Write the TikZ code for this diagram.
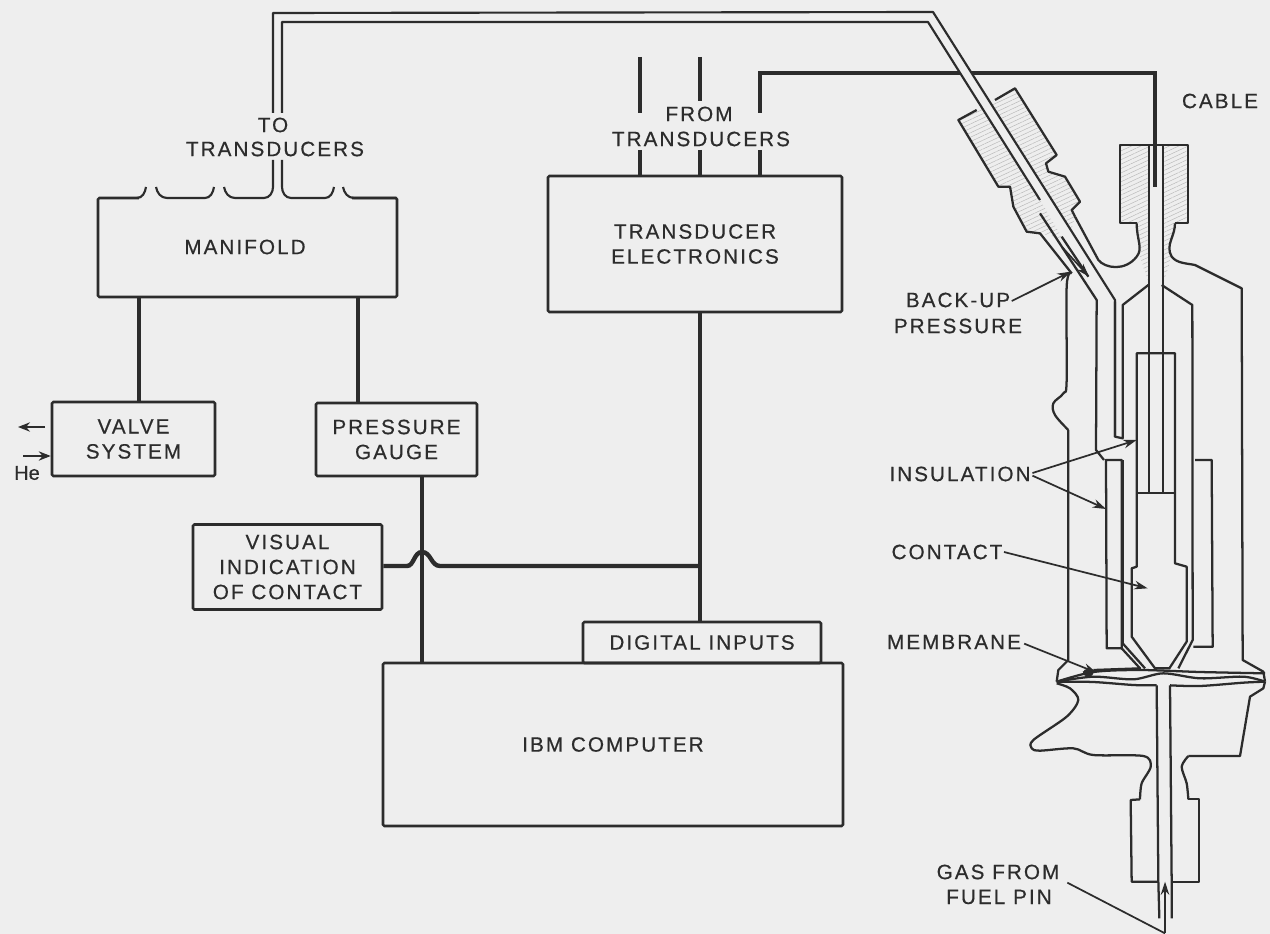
\documentclass[tikz,border=0pt]{standalone}
\usepackage{fontspec}
\usetikzlibrary{arrows.meta,patterns.meta}
\newfontfamily\lab[LetterSpace=10,FakeBold=0.5]{Liberation Sans}
\newfontfamily\labn[FakeBold=0.5]{Liberation Sans}
\definecolor{bgc}{HTML}{EEEEEE}
\definecolor{ink}{HTML}{2C2C2C}
\tikzset{
  px/.style={x=.75pt,y=-.75pt},
  Z/.style={shift={(880,60)},x=.25pt,y=-.25pt},
  txt/.style={font=\lab\fontsize{15.5}{18.75}\selectfont,text=ink,align=center,inner sep=1pt},
  blk/.style={draw=ink,line width=1.9pt,rounded corners=1pt,inner sep=0pt,txt},
  wire/.style={draw=ink,line width=3.3pt},
  thin tube/.style={draw=ink,line width=1.6pt,line join=round},
  dev/.style={draw=ink,line width=1.7pt,line join=round},
  leader/.style={draw=ink,line width=1.3pt,-{Stealth[length=10pt,width=6.5pt]}},
  hatch/.style={pattern={Lines[angle=25,distance=3pt,line width=.35pt]},pattern color=black!28}
}
\begin{document}
\begin{tikzpicture}[px]
\fill[bgc] (0,0) rectangle (1270,934);
\useasboundingbox (0,0) rectangle (1270,934);
% ---- blocks
\node[blk,minimum width=224.25pt,minimum height=74.25pt] (manifold) at (247.5,247.5) {};
\node[txt] (manifoldt) at (245,247) {MANIFOLD};
\fill[bgc] (139,194) rectangle (352,201);
\node[blk,minimum width=122.25pt,minimum height=55.5pt] (valve) at (133.5,439) {VALVE\\SYSTEM};
\node[blk,minimum width=120.75pt,minimum height=54.75pt] (gauge) at (396.5,439.5) {PRESSURE\\GAUGE};
\node[blk,minimum width=141.75pt,minimum height=63.75pt] (visual) at (287.5,567) {VISUAL\\INDICATION\\OF CONTACT};
\node[blk,minimum width=178.5pt,minimum height=30.75pt] (digital) at (702,642.5) {DIGITAL INPUTS};
\node[blk,minimum width=345pt,minimum height=122.25pt] (ibm) at (613,744.5) {IBM COMPUTER};
\node[blk,minimum width=220.5pt,minimum height=102pt] (te) at (695,244) {TRANSDUCER\\ELECTRONICS};
% ---- manifold top outlets
\draw[thin tube] (137,198) to[out=0,in=-100] (146,187);
\draw[thin tube] (156,187) to[out=-80,in=180] (167,198) -- (205,198) to[out=0,in=-100] (214,187);
\draw[thin tube] (224,187) to[out=-80,in=180] (235,198) -- (264,198) to[out=0,in=-90] (273,187) -- (273,160);
\draw[thin tube] (282,160) -- (282,187) to[out=-90,in=180] (291,198) -- (325,198) to[out=0,in=-100] (334,187);
\draw[thin tube] (343,187) to[out=-80,in=180] (354,198) -- (397,198);
% ---- wires
\coordinate (m1) at (139,0);
\coordinate (m2) at (358,0);
\coordinate (g1) at (422,0);
\coordinate (hy) at (0,566);
\draw[wire] (m1 |- manifold.south) -- (m1 |- valve.north);
\draw[wire] (m2 |- manifold.south) -- (m2 |- gauge.north);
\draw[wire] (g1 |- gauge.south) -- (g1 |- ibm.north);
\draw[wire] (te.south -| 700,0) -- (digital.north -| 700,0);
\draw[wire] (visual.east |- hy) -- (407,566) .. controls (414,566) and (414,552) .. (422,552) .. controls (431,552) and (431,566) .. (440,566) -- (700,566);
\foreach \xx/\n in {640/a,700/b,760/c}{
  \coordinate (u\n) at (\xx,150);
  \draw[wire] (u\n) -- (u\n |- te.north);
}
\coordinate (ta) at (640,57);
\coordinate (tb) at (700,57);
\draw[wire] (ta) -- (640,113);
\draw[wire] (tb) -- (700,101);
\coordinate (c1) at (760,113);
\coordinate (c2) at (760,73);
\coordinate (c3) at (1155,73);
\coordinate (c4) at (1155,187);
% ---- He arrows
\coordinate (he1) at (45,427);
\coordinate (he2) at (18,427);
\coordinate (he3) at (23,456);
\draw[draw=ink,line width=1.2pt,-{Stealth[length=9pt,width=7pt]}] (he1) -- (he2);
\draw[draw=ink,line width=1.2pt,-{Stealth[length=9pt,width=7pt]}] (he3) -- (valve.west |- he3);
\node[txt,font=\labn\fontsize{15}{16}\selectfont] (he) at (27,473) {He};
% ---- text labels
\node[txt] (to) at (273,125) {TO};
\node[txt] (tot) at (275,149) {TRANSDUCERS};
\node[txt] (from) at (699,114) {FROM};
\node[txt] (fromt) at (701,139) {TRANSDUCERS};
\node[txt] (cable) at (1220,101) {CABLE};
\node[txt] (backup) at (958,300) {BACK-UP};
\node[txt] (press) at (958,326) {PRESSURE};
\node[txt] (insul) at (960,474) {INSULATION};
\node[txt] (contact) at (947,552) {CONTACT};
\node[txt] (membrane) at (954,642) {MEMBRANE};
\node[txt] (gas) at (998,872) {GAS FROM};
\node[txt] (pin) at (999,897) {FUEL PIN};
% ---- pressure device, coordinates in 1/3 px from (880,60)
\begin{scope}[Z]
 % hatched nuts
 \path[hatch] (235,180)--(405,85)--(530,285)--(498,310)--(505,335)--(555,350)--(600,425)--(575,450)--(585,470)--(565,540)--(480,520)--(440,515)--(400,440)--(390,380)--(355,380)--cycle;
 \path[hatch] (720,255)--(925,255)--(925,490)--(885,490)--(885,520)--(868,560)--(875,590)--(848,675)--(808,675)--(780,590)--(780,560)--(770,520)--(770,490)--(720,490)--cycle;
 \fill[bgc] (808,255)--(848,255)--(848,1300)--(808,1300)--cycle;
 % cable, under the gas tube
 \draw[wire] (c1) -- (c2) -- (c3) -- (c4);
 % gas tube strip across the cable and nut
 \fill[bgc] (150,-105)--(475,410)--(650,710)--(699,710)--(250,0)--(190,-125)--cycle;
 % nut outlines
 \draw[dev] (345,120)--(405,85)--(530,285)--(498,310)--(505,335)--(555,350)--(600,425)--(575,450)--(585,470);
 \draw[dev] (290,150)--(235,180)--(355,380)--(390,380)--(400,440)--(440,515)--(480,520)--(575,640);
 \draw[dev] (770,490)--(720,490)--(720,255)--(925,255)--(925,490)--(885,490);
 \draw[dev] (585,470)--(655,600) .. controls (675,625) and (735,635) .. (770,590) .. controls (790,565) and (770,540) .. (770,490);
 \draw[dev] (885,490) .. controls (885,530) and (855,555) .. (875,590) .. controls (890,610) and (920,610) .. (945,615) -- (1085,685) -- (1088,1800) -- (1150,1835) -- (1155,1865);
 % tube inner lines
 \draw[dev] (480,460)--(650,720)--(648,1170)--(672,1200);
 \draw[dev] (545,530)--(625,650);
 \draw[dev] (705,725)--(705,1130)--(728,1135)--(728,735)--(805,675);
 \draw[dev] (845,675)--(937,735)--(938,1740)--(895,1825);
 % centre lead
 \draw[dev] (808,255)--(808,1300);
 \draw[dev] (848,255)--(848,1300);
 \draw[dev] (770,880)--(885,880)--(885,1510)--(920,1520)--(920,1745)--(868,1825)--(825,1825)--(755,1730)--(755,1525)--(770,1520)--cycle;
 \draw[dev] (775,1300)--(885,1300);
 % sleeves
 \draw[dev] (678,1200)--(725,1200)--(725,1765)--(680,1765)--cycle;
 \draw[dev] (728,1200)--(728,1750)--(795,1825);
 \draw[dev] (725,1765)--(780,1825)--(640,1830);
 \draw[dev] (945,1200)--(995,1200)--(998,1760)--(940,1760);
 % outer left body
 \draw[dev] plot[smooth,tension=.6] coordinates {(575,640)(560,680)(560,960)(550,1000)(520,1030)(525,1065)(565,1110)};
 \draw[dev] (565,1110)--(565,1800)--(535,1830)--(530,1865);
 \draw[dev] plot[smooth,tension=.5] coordinates {(530,1870)(570,1885)(595,1920)(560,1970)(460,2040)(455,2065)(480,2072)(580,2065)(640,2085)(790,2088)(812,2120)(785,2170)(780,2218)};
 \draw[dev] (780,2218)--(752,2220)--(755,2465)--(835,2465);
 \draw[dev] (875,2465)--(958,2465)--(958,2218)--(925,2218);
 \draw[dev] plot[smooth,tension=.5] coordinates {(925,2218)(920,2170)(905,2120)(925,2088)};
 \draw[dev] (925,2088)--(1080,2088)--(1110,1910)--(1150,1885)--(1155,1865);
 % membrane
 \draw[dev] plot[smooth,tension=.5] coordinates {(530,1865)(640,1850)(760,1858)(850,1840)(960,1855)(1090,1850)(1155,1865)};
 \draw[dev] plot[smooth,tension=.5] coordinates {(530,1865)(640,1836)(780,1830)(960,1836)(1155,1840)};
 \draw[dev] plot[smooth,tension=.5] coordinates {(530,1865)(640,1866)(760,1875)(830,1876)};
 \draw[dev] plot[smooth,tension=.5] coordinates {(870,1876)(960,1878)(1090,1868)(1155,1865)};
 \fill[ink] (625,1838) ellipse (16 and 12);
 % lower tube
 \draw[dev] (830,1876)--(835,2465)--(838,2575);
 \draw[dev] (870,1876)--(875,2465)--(875,2575);
 % leaders
 \coordinate (bkt) at (572,635);
 \coordinate (bk2) at (545,560);
 \coordinate (bk3) at (627,650);
 \coordinate (ins1) at (770,1140);
 \coordinate (ins2) at (678,1347);
 \coordinate (cot) at (803,1585);
 \coordinate (met) at (650,1838);
 \coordinate (gasend) at (855,2620);
 \coordinate (gastip) at (855,2465);
 \coordinate (gasl) at (562,2468);
 \draw[leader] (backup.east) ++(0,3) -- (bkt);
 \draw[leader] (bk2) -- (bk3);
 \draw[leader] (insul.east) ++(1,-3) -- (ins1);
 \draw[leader] (insul.east) ++(1,5) -- (ins2);
 \draw[leader] (contact.east) -- (cot);
 \draw[leader] (membrane.east) ++(5,5) -- (met);
 \draw[leader] (gasend) -- (gastip);
 \draw[draw=ink,line width=1.3pt] (gasl) -- (gasend);
\end{scope}
% gas tube from the manifold to the fitting
\coordinate (tubeA) at (273,13);
\coordinate (tubeB) at (933,12);
\coordinate (tubeC) at (282,22);
\coordinate (tubeD) at (928,22);
\draw[thin tube] (273,113) -- (tubeA) -- (tubeB) -- (1115,300) -- (1115,437);
\draw[thin tube] (282,113) -- (tubeC) -- (tubeD) -- (1040,200);
\end{tikzpicture}
\end{document}
